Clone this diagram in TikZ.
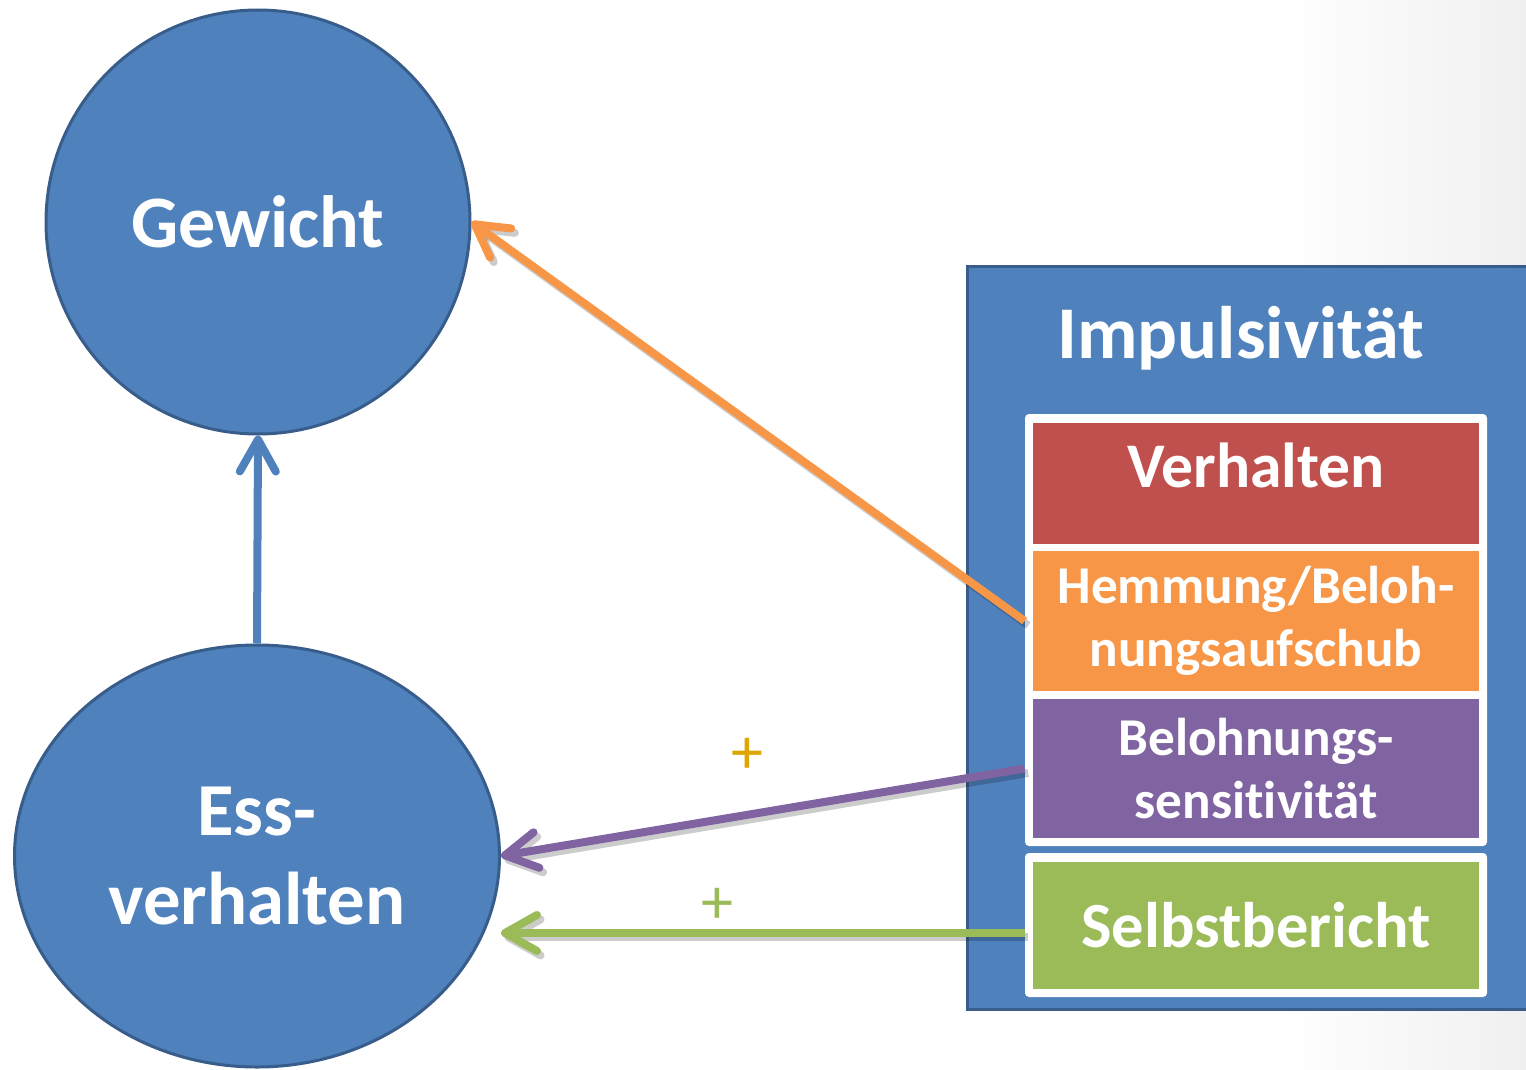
\documentclass[tikz,border=0pt]{standalone}
\usepackage{fontspec}
\setmainfont{Carlito}[Ligatures={NoCommon}]
\usetikzlibrary{arrows.meta,shapes.geometric}
\definecolor{oblue}{HTML}{4F81BD}
\definecolor{oborder}{HTML}{385D8A}
\definecolor{ored}{HTML}{C0504D}
\definecolor{oorange}{HTML}{F79646}
\definecolor{opurple}{HTML}{8064A2}
\definecolor{ogreen}{HTML}{9BBB59}
\definecolor{ogold}{RGB}{222,166,0}
\begin{document}
\begin{tikzpicture}[x=0.5pt,y=-0.5pt,
  bluenode/.style={fill=oblue, draw=oborder, line width=1.5pt, inner sep=0pt,
     text=white, align=center},
  framebox/.style={fill=white, rounded corners=2pt, inner sep=0pt},
  cbox/.style={inner sep=0pt, minimum width=223pt, text=white, align=center},
  arr/.style={line width=4pt, -{Straight Barb[length=16pt,width=18pt,round]}},
  shad/.style={black, opacity=0.2, transform canvas={shift={(1.8pt,-2.2pt)}}},
  plus/.style={font=\fontsize{32}{32}\selectfont, inner sep=0pt}]
\useasboundingbox (0,0) rectangle (1526,1070);
\clip (0,0) rectangle (1526,1070);
\fill[left color=white, right color=black!6] (1280,0) rectangle (1526,1070);

% nodes
\node[bluenode, circle, minimum size=212pt,
      font=\bfseries\fontsize{37}{44.5}\selectfont] (gew) at (258,222) {Gewicht};
\node[bluenode, ellipse, minimum width=242.5pt, minimum height=211pt,
      font=\bfseries\fontsize{37.4}{44.5}\selectfont] (ess) at (257,856) {Ess-\\verhalten};
\node[bluenode, rectangle, minimum width=289pt, minimum height=371.5pt] (imp) at (1256,637.5) {};
\node[anchor=base, text=white, inner sep=0pt, font=\bfseries\fontsize{37.2}{40}\selectfont]
      (title) at (1241,358) {Impulsivität};
\node[framebox, minimum width=231pt, minimum height=216pt] (fr1) at (1256,630) {};
\node[framebox, minimum width=231pt, minimum height=72pt] (fr2) at (1256,925) {};
\node[cbox, fill=ored, minimum height=60.5pt, text depth=18pt,
      font=\bfseries\fontsize{31.8}{40}\selectfont] (vh) at (1256,483.5) {Verhalten};
\node[cbox, fill=oorange, minimum height=70pt,
      font=\bfseries\fontsize{26.6}{31.5}\selectfont] (hb) at (1256,621) {Hemmung/Beloh-\\nungsaufschub};
\node[cbox, fill=opurple, minimum height=69.5pt,
      font=\bfseries\fontsize{26.6}{31.5}\selectfont] (bs) at (1256,768.5) {Belohnungs-\\sensitivität};
\node[cbox, fill=ogreen, minimum height=63.5pt,
      font=\bfseries\fontsize{32.2}{40}\selectfont] (sb) at (1256,925.5) {Selbstbericht};

\node[plus, text=ogold] (p1) at (747,756) {+};
\node[plus, text=ogreen] (p2) at (717,906) {+};

% connectors
\coordinate (os) at (fr1.west |- hb.center);
\coordinate (ps) at (fr1.west |- bs.center);
\coordinate (gs) at ([yshift=-4pt]fr2.west);
\coordinate (ge) at (gs -| ess.east);

\draw[arr, oblue] (ess.north) -- (gew.south);

\draw[arr, shad] (os) -- (gew.east);
\draw[arr, oorange] (os) -- (gew.east);

\draw[arr, shad] (ps) -- (ess.east);
\draw[arr, opurple] (ps) -- (ess.east);

\draw[arr, shad] (gs) -- (ge);
\draw[arr, ogreen] (gs) -- (ge);
\end{tikzpicture}
\end{document}
